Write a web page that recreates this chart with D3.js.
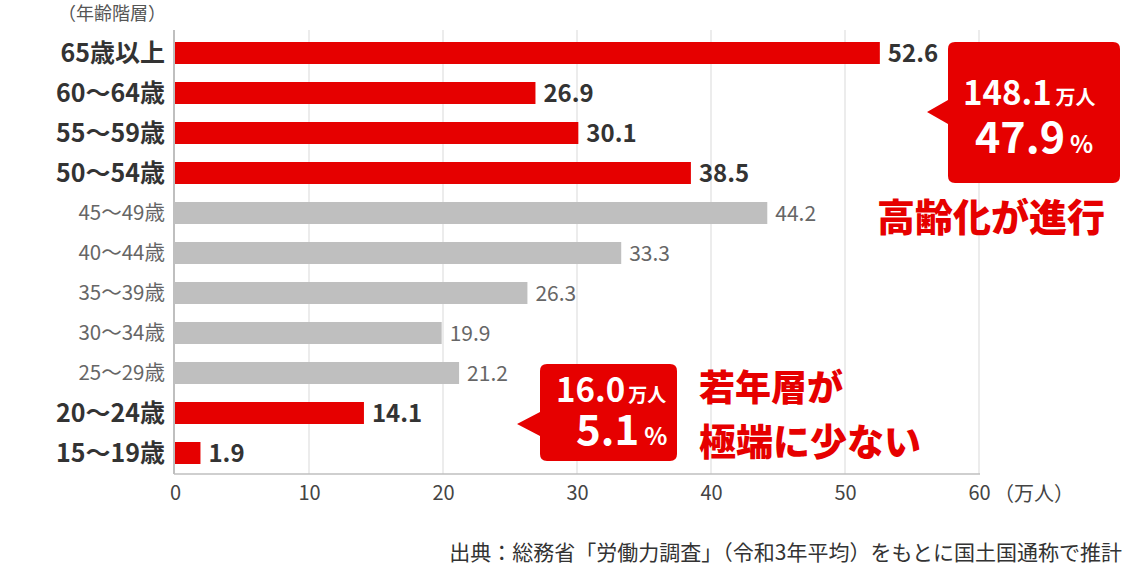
<!DOCTYPE html>
<html><head><meta charset="utf-8">
<script src="https://cdn.jsdelivr.net/npm/d3@7"></script>
<style>body{margin:0;background:#fff;}svg{display:block;font-family:"Noto Sans CJK JP","Noto Sans",sans-serif;}</style>
</head><body><svg id="c" width="1142" height="566"></svg>
<script>
const categories = ["65歳以上","60～64歳","55～59歳","50～54歳","45～49歳","40～44歳","35～39歳","30～34歳","25～29歳","20～24歳","15～19歳"];
const values = [52.6,26.9,30.1,38.5,44.2,33.3,26.3,19.9,21.2,14.1,1.9];
const highlight = [true,true,true,true,false,false,false,false,false,true,true];
const xTicks = [0,10,20,30,40,50,60];

const RED="#e60000", GRAY="#bfbfbf";
const svg = d3.select("#c");
const x = d3.scaleLinear().domain([0,60]).range([175,979]);
const y = d3.scaleBand().domain(categories).range([33,473]).paddingInner(0.45).paddingOuter(0.225);

// grid
svg.append("g").selectAll("line").data(xTicks.slice(1)).join("line")
  .attr("x1",d=>x(d)).attr("x2",d=>x(d)).attr("y1",30).attr("y2",474)
  .attr("stroke","#d9d9d9").attr("stroke-width",1);
svg.append("line").attr("x1",x(0)-1).attr("x2",x(0)-1).attr("y1",30).attr("y2",474).attr("stroke","#bfbfbf").attr("stroke-width",2);
svg.append("line").attr("x1",x(0)-1).attr("x2",x(60)+1).attr("y1",474).attr("y2",474).attr("stroke","#bfbfbf").attr("stroke-width",1.5);

// tick labels
const xa = d3.axisBottom(x).tickValues(xTicks).tickSize(0).tickPadding(0);
const gx = svg.append("g").attr("transform","translate(0,485)").call(xa);
gx.select(".domain").remove();
gx.selectAll("text").attr("font-size",20).attr("fill","#444").attr("dy","0.75em")
  .style("font-family",'"Noto Sans CJK JP",sans-serif');
svg.append("text").attr("x",x(60)+15).attr("y",501).attr("font-size",20).attr("fill","#444").text("（万人）");

// bars
svg.append("g").selectAll("rect").data(categories).join("rect")
  .attr("x",x(0)).attr("y",d=>y(d)).attr("height",y.bandwidth())
  .attr("width",(d,i)=>x(values[i])-x(0))
  .attr("fill",(d,i)=>highlight[i]?RED:GRAY);

// category labels
svg.append("g").selectAll("text").data(categories).join("text")
  .attr("x",165).attr("y",d=>y(d)+y.bandwidth()/2).attr("dy","0.36em")
  .attr("text-anchor","end")
  .attr("font-size",(d,i)=>highlight[i]?25:20.5)
  .attr("font-weight",(d,i)=>highlight[i]?700:400)
  .attr("fill",(d,i)=>highlight[i]?"#333":"#666")
  .text(d=>d);

// value labels
svg.append("g").selectAll("text").data(categories).join("text")
  .attr("x",(d,i)=>x(values[i])+8).attr("y",d=>y(d)+y.bandwidth()/2).attr("dy","0.36em")
  .attr("font-size",(d,i)=>highlight[i]?24:21)
  .attr("font-weight",(d,i)=>highlight[i]?700:400)
  .attr("fill",(d,i)=>highlight[i]?"#333":"#666")
  .text((d,i)=>values[i].toFixed(1));

// axis title
svg.append("text").attr("x",166).attr("y",20).attr("text-anchor","end").attr("font-size",18).attr("fill","#555").text("（年齢階層）");

function callout(x0,y0,w,h,tipX,tipY,baseY1,baseY2){
  const r=7;
  const p = `M${x0+r},${y0} H${x0+w-r} Q${x0+w},${y0} ${x0+w},${y0+r} V${y0+h-r} Q${x0+w},${y0+h} ${x0+w-r},${y0+h} H${x0+r} Q${x0},${y0+h} ${x0},${y0+h-r} V${baseY2} L${tipX},${tipY} L${x0},${baseY1} V${y0+r} Q${x0},${y0} ${x0+r},${y0} Z`;
  svg.append("path").attr("d",p).attr("fill",RED);
}
function twoPart(xs,ys,big,bs,small,ss,gap){
  const t = svg.append("text").attr("x",xs).attr("y",ys).attr("fill","#fff").attr("font-weight",700);
  t.append("tspan").attr("font-size",bs).text(big);
  t.append("tspan").attr("font-size",ss).attr("dx",gap).text(small);
}
// callout 1
callout(948,42,172,141,927,112,100,124);
twoPart(963,105,"148.1",33,"万人",20,4);
twoPart(975,153,"47.9",43,"%",24,5);
svg.append("text").attr("x",877).attr("y",231).attr("fill",RED).attr("font-weight",900).attr("font-size",38).text("高齢化が進行");

// callout 2
callout(540,364,137,97,517,424,412,436);
twoPart(556,402,"16.0",33,"万人",19,3);
twoPart(576,445,"5.1",42,"%",24,5);
svg.append("text").attr("x",699).attr("y",401).attr("fill",RED).attr("font-weight",900).attr("font-size",36).text("若年層が");
svg.append("text").attr("x",699).attr("y",456).attr("fill",RED).attr("font-weight",900).attr("font-size",37).text("極端に少ない");

// source
svg.append("text").attr("x",1122).attr("y",560).attr("text-anchor","end").attr("font-size",21).attr("fill","#333")
  .text("出典：総務省「労働力調査」（令和3年平均）をもとに国土国通称で推計");
</script></body></html>
